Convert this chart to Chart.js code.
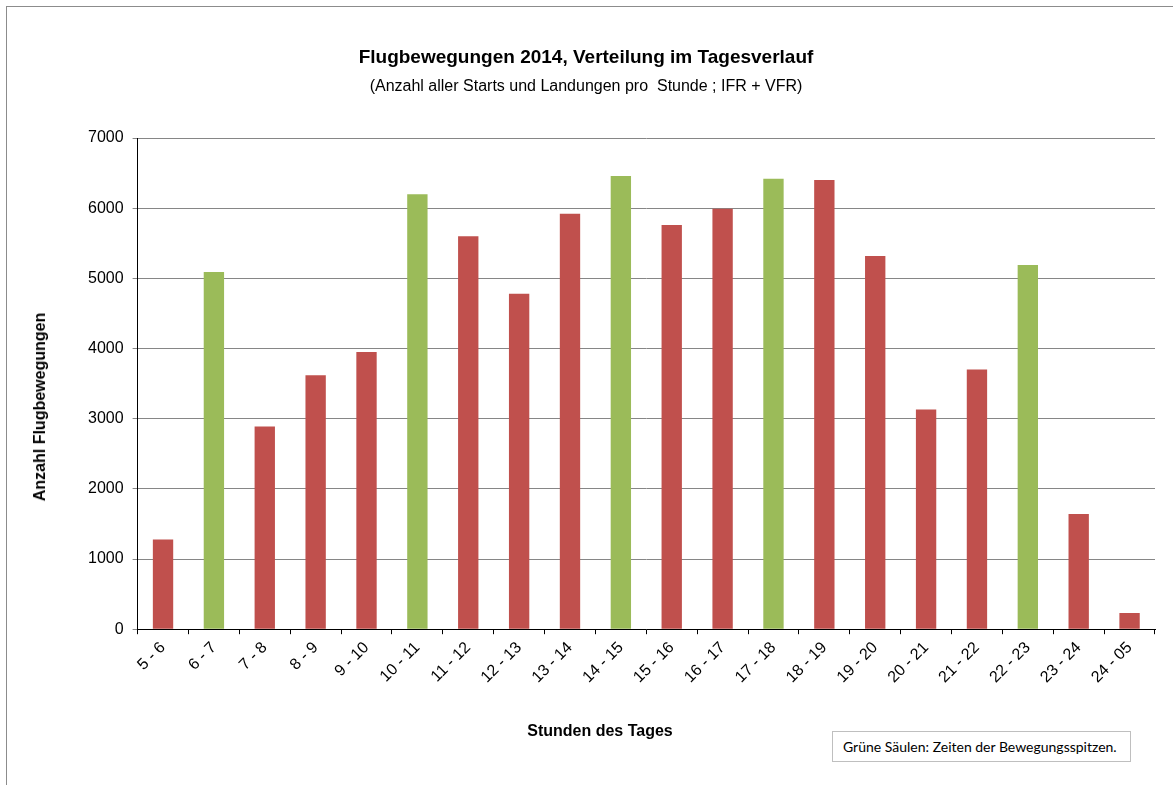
<!DOCTYPE html>
<html>
<head>
<meta charset="utf-8">
<script src="https://cdn.jsdelivr.net/npm/chart.js@4"></script>
<style>
  html, body { margin: 0; padding: 0; background: #fff; }
  #wrap { position: relative; width: 1173px; height: 785px; overflow: hidden; }
  #frame {
    position: absolute; left: 6px; top: 6px; width: 1200px; height: 800px;
    border-top: 1px solid #8c8c8c; border-left: 1px solid #8c8c8c;
  }
  #note {
    position: absolute; left: 832px; top: 731px; width: 299px; height: 31px;
    border: 1px solid #bfbfbf; background: #fff;
    font-family: Lato, "Open Sans", sans-serif; font-size: 14px; color: #000;
    line-height: 29px; padding-left: 10px; box-sizing: border-box;
  }
  .axis-title {
    position: absolute; font-family: "Liberation Sans", Arial, sans-serif;
    font-size: 16px; font-weight: bold; color: #000; white-space: nowrap;
    line-height: 20px;
  }
  #xTitle { left: 600px; top: 721px; transform: translateX(-50%); }
  #yTitle { left: 40px; top: 407px; transform: translate(-50%, -50%) rotate(-90deg); }
  canvas { position: absolute; left: 0; top: 0; }
</style>
</head>
<body>
<div id="wrap">
  <div id="frame"></div>
  <canvas id="myChart" width="1173" height="785"></canvas>
  <div id="xTitle" class="axis-title">Stunden des Tages</div>
  <div id="yTitle" class="axis-title">Anzahl Flugbewegungen</div>
  <div id="note">Grüne Säulen: Zeiten der Bewegungsspitzen.</div>
</div>
<script>
const hours = ["5 - 6", "6 - 7", "7 - 8", "8 - 9", "9 - 10", "10 - 11", "11 - 12",
  "12 - 13", "13 - 14", "14 - 15", "15 - 16", "16 - 17", "17 - 18", "18 - 19",
  "19 - 20", "20 - 21", "21 - 22", "22 - 23", "23 - 24", "24 - 05"];
const movements = [1280, 5090, 2890, 3620, 3950, 6200, 5600, 4780, 5920, 6460,
  5760, 5990, 6420, 6400, 5320, 3130, 3700, 5190, 1640, 230];
const isPeak = [false, true, false, false, false, true, false, false, false, true,
  false, false, true, false, false, false, false, true, false, false];

const red = "#c0504d";
const green = "#9bbb59";
const ctx = document.querySelector("#myChart").getContext("2d");

// axis titles sit off-centre in the original, so they are placed as html above
let barChart = new Chart(ctx, {
  type: "bar",
  data: {
    labels: hours,
    datasets: [
      {
        label: "Flugbewegungen",
        data: movements,
        backgroundColor: isPeak.map((p) => (p ? green : red)),
        categoryPercentage: 1,
        barPercentage: 0.4,
      },
    ],
  },
  options: {
    responsive: false,
    animation: false,
    layout: { padding: { top: 46, left: 17, right: 18, bottom: 94 } },
    plugins: {
      legend: { display: false },
      tooltip: { enabled: false },
      title: {
        display: true,
        text: "Flugbewegungen 2014, Verteilung im Tagesverlauf",
        color: "#000",
        font: { family: "Liberation Sans, Arial", size: 19, weight: "bold" },
        padding: { top: 0, bottom: 8 },
      },
      subtitle: {
        display: true,
        text: "(Anzahl aller Starts und Landungen pro  Stunde ; IFR + VFR)",
        color: "#000",
        font: { family: "Liberation Sans, Arial", size: 16 },
        padding: { top: 0, bottom: 42 },
      },
    },
    scales: {
      x: {
        offset: true,
        grid: {
          offset: true,
          display: true,
          drawOnChartArea: false,
          drawTicks: true,
          tickLength: 5,
          color: "#000",
        },
        border: { color: "#000", width: 1 },
        ticks: {
          color: "#000",
          maxRotation: 45,
          minRotation: 45,
          font: { family: "Liberation Sans, Arial", size: 16 },
          padding: 4,
        },
      },
      y: {
        min: 0,
        max: 7000,
        afterFit: (scale) => {
          scale.width += 62; // room for the html y title
        },
        grid: { color: "#868686", tickLength: 5 },
        border: { color: "#000", width: 1 },
        ticks: {
          stepSize: 1000,
          color: "#000",
          font: { family: "Liberation Sans, Arial", size: 16 },
          padding: 9,
          callback: (v) => String(v),
        },
      },
    },
  },
});
</script>
</body>
</html>
